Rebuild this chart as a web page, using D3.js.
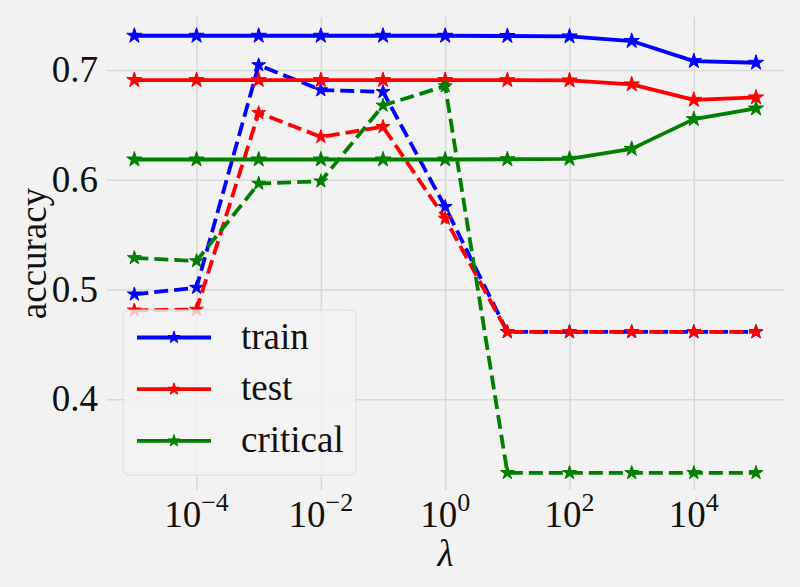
<!DOCTYPE html>
<html>
<head>
<meta charset="utf-8">
<script src="https://cdn.jsdelivr.net/npm/d3@7.9.0/dist/d3.min.js"></script>
<style>
  html, body { margin: 0; padding: 0; background: #f2f2f2; }
  svg { display: block; }
  text { font-family: "Liberation Serif", "DejaVu Serif", serif; fill: #111; }
</style>
</head>
<body>
<svg id="chart" width="800" height="587"></svg>
<script>
// lambda values (log10)
const lambdaExp = [-5, -4, -3, -2, -1, 0, 1, 2, 3, 4, 5];

// solid lines
const trainSolid    = [0.7313, 0.7313, 0.7313, 0.7313, 0.7313, 0.7313, 0.7311, 0.7307, 0.7265, 0.7082, 0.7067];
const testSolid     = [0.6909, 0.6909, 0.6909, 0.6909, 0.6909, 0.6909, 0.6908, 0.6906, 0.6870, 0.6729, 0.6751];
const criticalSolid = [0.6185, 0.6185, 0.6185, 0.6185, 0.6185, 0.6185, 0.6187, 0.6191, 0.6282, 0.6553, 0.6650];

// dashed lines
const trainDashed    = [0.4956, 0.5017, 0.7046, 0.6818, 0.6802, 0.5753, 0.4613, 0.4613, 0.4613, 0.4613, 0.4613];
const testDashed     = [0.4810, 0.4817, 0.6610, 0.6392, 0.6483, 0.5647, 0.4613, 0.4613, 0.4613, 0.4613, 0.4613];
const criticalDashed = [0.5288, 0.5260, 0.5966, 0.5987, 0.6678, 0.6854, 0.3329, 0.3329, 0.3329, 0.3329, 0.3329];

const yTicks = [0.4, 0.5, 0.6, 0.7];
const xTickExp = [-4, -2, 0, 2, 4];

const seriesNames = ['train', 'test', 'critical'];
const seriesColors = ['#0000ff', '#ff0000', '#008000'];

const svg = d3.select('#chart');
const W = 800, H = 587;
const m = {left: 107, right: 16, top: 17, bottom: 97};

svg.append('rect').attr('width', W).attr('height', H).attr('fill', '#f2f2f2');

const x = d3.scaleLog()
  .domain([Math.pow(10, -5.44), Math.pow(10, 5.45)])
  .range([m.left, W - m.right]);

const y = d3.scaleLinear()
  .domain([0.3172, 0.7484])
  .range([H - m.bottom, m.top]);

// gridlines
svg.append('g')
  .attr('transform', `translate(0,${H - m.bottom})`)
  .call(d3.axisBottom(x).tickValues(xTickExp.map(e => Math.pow(10, e))).tickSize(-(H - m.top - m.bottom)).tickFormat(''))
  .call(g => g.select('.domain').remove())
  .call(g => g.selectAll('line').attr('stroke', '#d9d9d9').attr('stroke-width', 1.5));

svg.append('g')
  .attr('transform', `translate(${m.left},0)`)
  .call(d3.axisLeft(y).tickValues(yTicks).tickSize(-(W - m.left - m.right)).tickFormat(''))
  .call(g => g.select('.domain').remove())
  .call(g => g.selectAll('line').attr('stroke', '#d9d9d9').attr('stroke-width', 1.5));

// tick labels
const fs = 37;
svg.append('g').selectAll('text')
  .data(yTicks)
  .join('text')
    .attr('x', 98)
    .attr('y', d => y(d))
    .attr('dy', '0.33em')
    .attr('text-anchor', 'end')
    .style('font-size', fs + 'px')
    .text(d => d.toFixed(1));

const xl = svg.append('g').selectAll('text')
  .data(xTickExp)
  .join('text')
    .attr('x', d => x(Math.pow(10, d)))
    .attr('y', 527)
    .attr('text-anchor', 'middle')
    .style('font-size', fs + 'px');
xl.append('tspan').text('10');
xl.append('tspan')
  .attr('dy', -16)
  .style('font-size', '26px')
  .text(d => d < 0 ? '\u2212' + Math.abs(d) : String(d));

// axis labels
svg.append('text')
  .attr('transform', `translate(46,${(m.top + H - m.bottom) / 2}) rotate(-90)`)
  .attr('text-anchor', 'middle')
  .style('font-size', fs + 'px')
  .text('accuracy');

svg.append('text')
  .attr('x', (m.left + W - m.right) / 2)
  .attr('y', 566)
  .attr('text-anchor', 'middle')
  .style('font-size', fs + 'px')
  .style('font-style', 'italic')
  .text('λ');

// lines
const line = d3.line()
  .x((d, i) => x(Math.pow(10, lambdaExp[i])))
  .y(d => y(d));

const solids = [trainSolid, testSolid, criticalSolid];
const dashed = [trainDashed, testDashed, criticalDashed];
const star = d3.symbol().type(d3.symbolStar);

function drawSeries(vals, color, dash, size) {
  const g = svg.append('g');
  g.append('path')
    .datum(vals)
    .attr('d', line)
    .attr('fill', 'none')
    .attr('stroke', color)
    .attr('stroke-width', 3.8)
    .attr('stroke-dasharray', dash)
    .attr('stroke-linejoin', 'round');
  g.selectAll('path.m')
    .data(vals)
    .join('path')
      .attr('class', 'm')
      .attr('transform', (d, i) => `translate(${x(Math.pow(10, lambdaExp[i]))},${y(d)})`)
      .attr('d', star.size(size)())
      .attr('fill', color)
      .attr('stroke', color)
      .attr('stroke-width', 1);
}

for (let k = 0; k < 3; k++) {
  drawSeries(solids[k], seriesColors[k], null, 72);
  drawSeries(dashed[k], seriesColors[k], '14,6', 60);
}

// legend
const lg = svg.append('g');
lg.append('rect')
  .attr('x', 123).attr('y', 310)
  .attr('width', 233).attr('height', 165)
  .attr('rx', 6)
  .attr('fill', '#f2f2f2')
  .attr('fill-opacity', 0.8)
  .attr('stroke', '#dcdcdc')
  .attr('stroke-width', 1);

const rows = lg.selectAll('g.row')
  .data(seriesNames)
  .join('g')
    .attr('class', 'row')
    .attr('transform', (d, i) => `translate(0,${337.5 + i * 51.7})`);
rows.append('line')
  .attr('x1', 137).attr('x2', 211)
  .attr('stroke', (d, i) => seriesColors[i])
  .attr('stroke-width', 3.8);
rows.append('path')
  .attr('transform', 'translate(174,0)')
  .attr('d', star.size(45)())
  .attr('fill', (d, i) => seriesColors[i])
  .attr('stroke', (d, i) => seriesColors[i]);
rows.append('text')
  .attr('x', 241)
  .attr('dy', '0.3em')
  .style('font-size', fs + 'px')
  .text(d => d);
</script>
</body>
</html>
